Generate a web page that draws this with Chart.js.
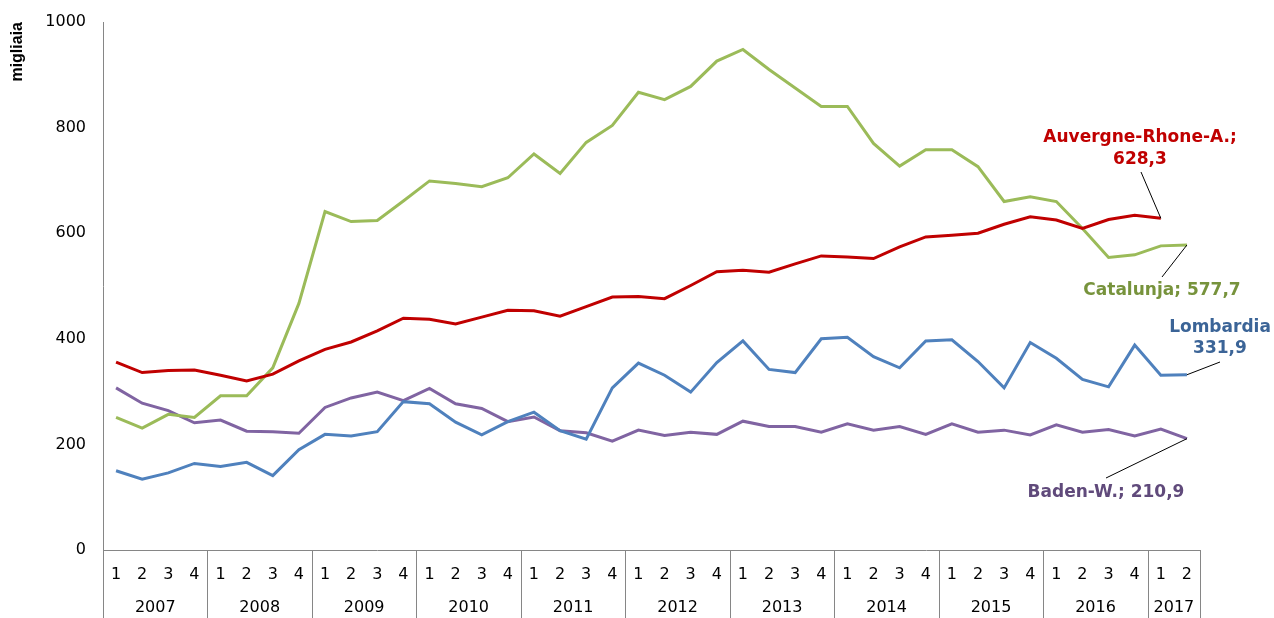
<!DOCTYPE html>
<html><head><meta charset="utf-8">
<script src="https://cdn.jsdelivr.net/npm/chart.js@4/dist/chart.umd.min.js"></script>
<style>html,body{margin:0;padding:0;background:#fff;}#wrap{width:1274px;height:618px;}</style>
</head><body><div id="wrap"><canvas id="c" width="1274" height="618"></canvas></div>
<script>
const years = ['2007','2008','2009','2010','2011','2012','2013','2014','2015','2016','2017'];
const quartersPerYear = [4,4,4,4,4,4,4,4,4,4,2];
const quarterLabels = ['1','2','3','4','1','2','3','4','1','2','3','4','1','2','3','4','1','2','3','4','1','2','3','4','1','2','3','4','1','2','3','4','1','2','3','4','1','2','3','4','1','2'];
const seriesNames = ['Auvergne-Rhone-A.','Catalunja','Lombardia','Baden-W.'];
const auvergne = [356,336,340,341,331,320,333,358,380,394,415,439,437,428,441,454,453,443,461,479,480,476,501,527,530,526,542,557,555,552,574,593,596,600,617,631,625,609,626,634,628.3,null];
const catalunja = [251,231,257,251,292,292,345,467,641,622,624,661,699,694,688,705,750,713,772,804,867,853,878,926,948,910,875,840,840,770,727,758,758,726,660,669,660,609,554,559,576,577.7];
const lombardia = [150,134,146,164,158,166,141,190,219,216,224,281,277,242,218,243,261,226,210,307,354,331,299,355,396,342,336,400,403,366,345,396,398,357,307,393,363,323,309,388,331,331.9];
const baden = [307,278,264,241,246,225,224,221,270,288,299,283,306,277,268,243,252,226,222,206,227,217,223,219,244,234,234,223,239,227,234,219,239,223,227,218,237,223,228,216,229,210.9];
const yTicks = [0,200,400,600,800,1000];
const labelTexts = [['Auvergne-Rhone-A.;','628,3'],['Catalunja; 577,7'],['Lombardia','331,9'],['Baden-W.; 210,9']];

const FONT = '"DejaVu Sans", Verdana, sans-serif';
const AXIS = '#868686';
const colors = ['#C00000','#9BBB59','#4F81BD','#8064A2'];
const textColors = ['#C00000','#77933C','#3B6497','#604A7B'];
// label placement (canvas px): text centre x, line centre ys, leader start
const labelPlace = [
  {x:1140, ys:[138,159.5], from:[1141,172]},
  {x:1162, ys:[291], from:[1162,277]},
  {x:1220, ys:[328,349], from:[1220,362]},
  {x:1106, ys:[493], from:[1106,478]}
];

const extras = {
  id:'extras',
  afterDraw(chart){
    const ctx = chart.ctx, xs = chart.scales.x, ca = chart.chartArea;
    ctx.save();
    ctx.strokeStyle = AXIS; ctx.lineWidth = 1;
    let idx = 0;
    const bounds = [ca.left];
    quartersPerYear.forEach((n,k)=>{
      const first = idx, last = idx+n-1;
      idx += n;
      const cx = (xs.getPixelForValue(first)+xs.getPixelForValue(last))/2;
      ctx.fillStyle = '#000';
      ctx.font = '16px '+FONT;
      ctx.textAlign = 'center'; ctx.textBaseline = 'middle';
      ctx.fillText(years[k], cx, 608);
      if (k < quartersPerYear.length-1) bounds.push((xs.getPixelForValue(last)+xs.getPixelForValue(last+1))/2);
    });
    bounds.push(ca.right);
    bounds.forEach(b=>{
      const xx = Math.round(b)+0.5;
      ctx.beginPath(); ctx.moveTo(xx, ca.bottom); ctx.lineTo(xx, 618); ctx.stroke();
    });
    chart.data.datasets.forEach((ds,i)=>{
      const meta = chart.getDatasetMeta(i);
      let li = ds.data.length-1;
      while (ds.data[li]===null) li--;
      const pt = meta.data[li];
      const p = labelPlace[i];
      ctx.strokeStyle = '#000'; ctx.lineWidth = 1;
      ctx.beginPath(); ctx.moveTo(p.from[0], p.from[1]); ctx.lineTo(pt.x, pt.y); ctx.stroke();
      ctx.fillStyle = textColors[i];
      ctx.font = 'bold 17px '+FONT;
      ctx.textAlign = 'center'; ctx.textBaseline = 'middle';
      labelTexts[i].forEach((t,j)=>ctx.fillText(t, p.x, p.ys[j]));
    });
    ctx.restore();
  }
};

new Chart(document.getElementById('c'), {
  type:'line',
  data:{
    labels: quarterLabels,
    datasets:[auvergne,catalunja,lombardia,baden].map((d,i)=>({
      label: seriesNames[i], data:d, borderColor:colors[i], backgroundColor:colors[i],
      borderWidth:3, pointRadius:0, tension:0, fill:false
    }))
  },
  options:{
    responsive:false, animation:false, devicePixelRatio:1,
    layout:{padding:{top:22,right:74,bottom:0,left:0}},
    plugins:{legend:{display:false}, tooltip:{enabled:false}},
    scales:{
      x:{
        offset:true,
        grid:{display:false, drawTicks:false},
        border:{display:true, color:AXIS, width:1},
        ticks:{autoSkip:false, maxRotation:0, padding:15, color:'#000', font:{family:FONT, size:16}},
        afterFit(s){ s.height = 68; s.paddingLeft = 0; s.paddingRight = 0; }
      },
      y:{
        min:0, max:1000,
        afterBuildTicks(s){ s.ticks = yTicks.map(v=>({value:v})); },
        grid:{display:false, drawTicks:false},
        border:{display:true, color:AXIS, width:1},
        ticks:{padding:17, color:'#000', font:{family:FONT, size:16}, callback:(v)=>String(v)},
        title:{display:true, text:'migliaia', align:'end', color:'#000',
          font:{family:'"Liberation Sans", Arial, sans-serif', size:16, weight:'bold'}, padding:{top:8,bottom:0}},
        afterFit(s){ s.width = 103; s.paddingTop = 0; s.paddingBottom = 0; }
      }
    }
  },
  plugins:[extras]
});
</script></body></html>
